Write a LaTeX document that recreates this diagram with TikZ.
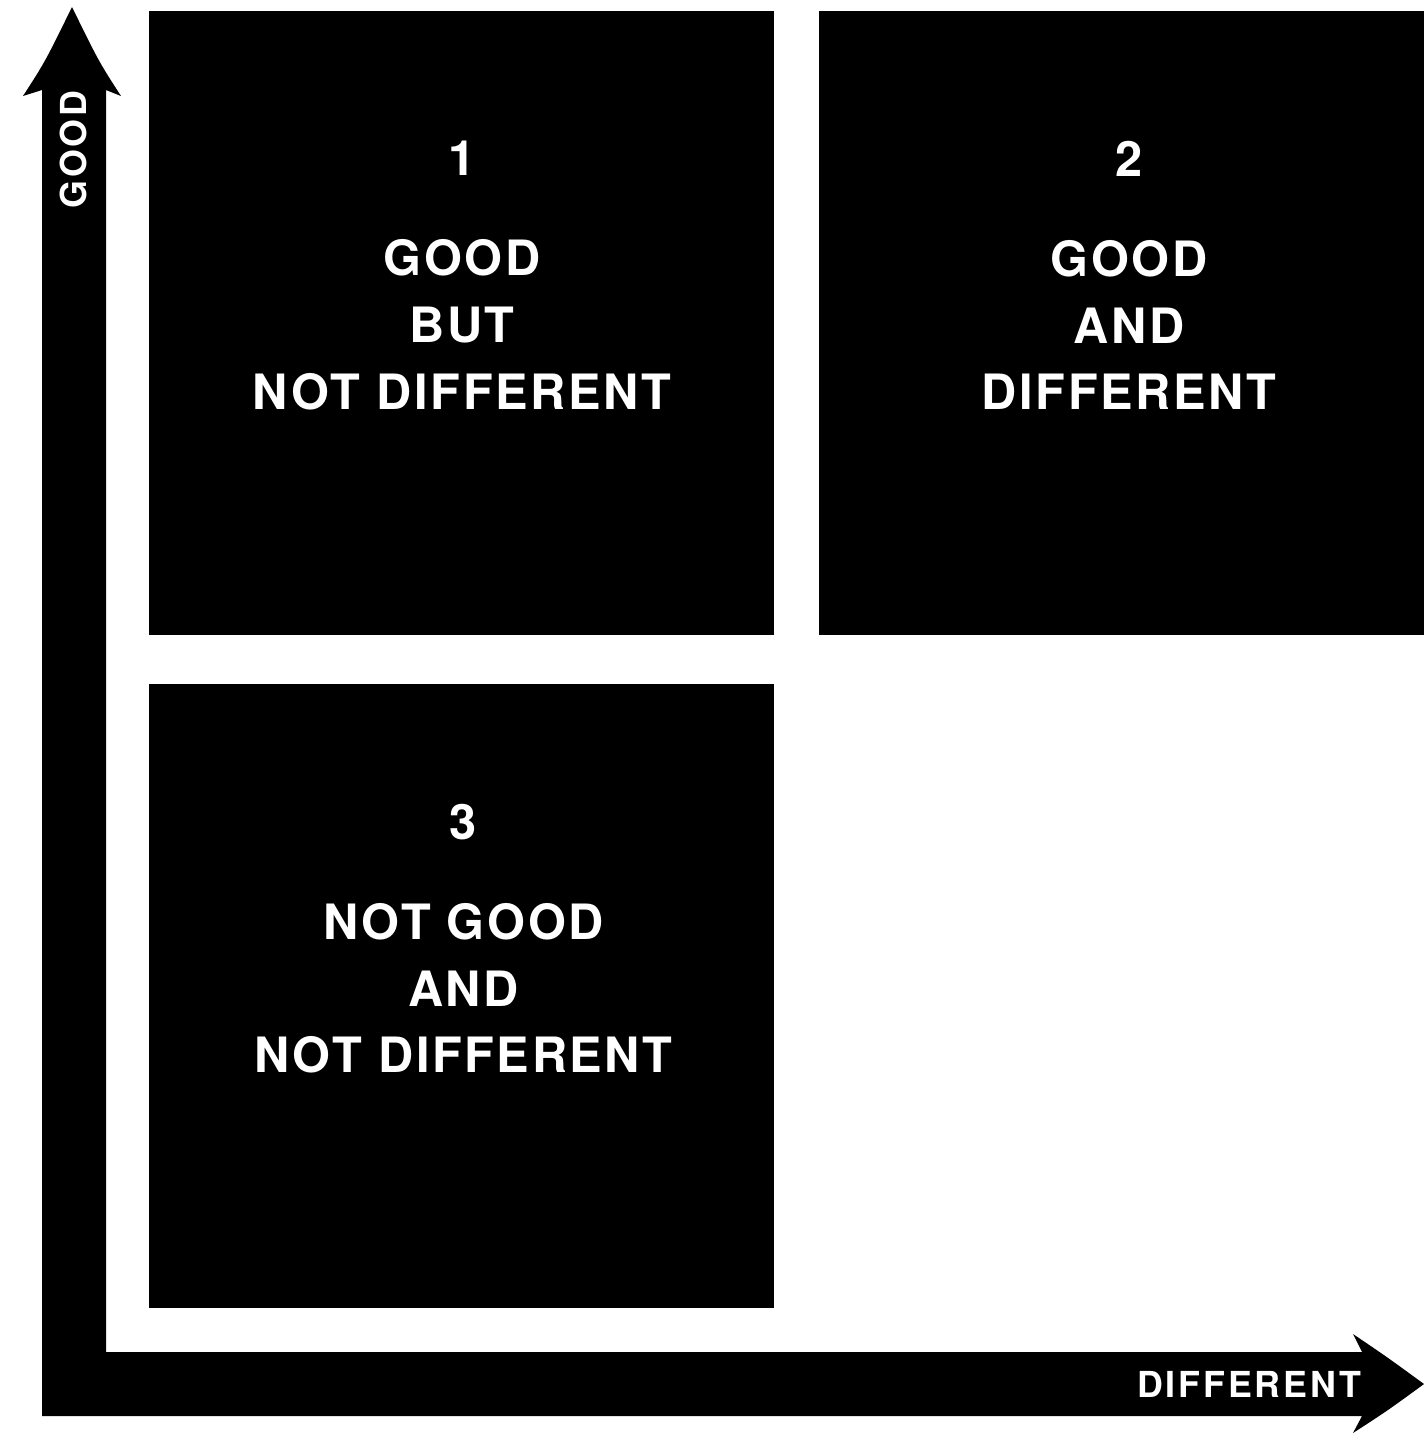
\documentclass[tikz,border=0pt]{standalone}
\usepackage{fontspec}
\usepackage{tikz}
\usetikzlibrary{positioning}
\newfontfamily\quadfont{TeX Gyre Heros}[LetterSpace=5.4]
\newfontfamily\axisfont{TeX Gyre Heros}[LetterSpace=8.0]

\begin{document}
\begin{tikzpicture}[x=1pt, y=-1pt,
    quadtext/.style={text=white, align=center, anchor=north, inner sep=0pt,
      font=\quadfont\bfseries\fontsize{48.7}{66.7}\selectfont},
    axislabel/.style={text=white, anchor=base, inner sep=0pt,
      font=\axisfont\bfseries\fontsize{35.8}{40}\selectfont}]
    \useasboundingbox (0,0) rectangle (1424,1433);
    % quadrants
    \fill (149,11) rectangle (774,635);
    \fill (819,11) rectangle (1424,635);
    \fill (149,684) rectangle (774,1308);
    % axes
    \fill (42,1416) -- (42,90) -- (23,96) .. controls (45,62) .. (72,7)
        .. controls (99,62) .. (121,96) -- (106,90) -- (106,1352)
        -- (1362,1352) -- (1353,1334) .. controls (1387,1357) .. (1424,1384)
        .. controls (1387,1411) .. (1353,1433) -- (1362,1416) -- cycle;
    % texts
    \node[quadtext] (q1) at (462,141) {1\\[33.3pt]GOOD\\BUT\\NOT DIFFERENT};
    \node[quadtext] (q2) at (1129,141) {2\\[33.3pt]GOOD\\AND\\DIFFERENT};
    \node[quadtext] (q3) at (463.5,804) {3\\[33.3pt]NOT GOOD\\AND\\NOT DIFFERENT};
    \node[axislabel] (xlabel) at (1249,1397) {DIFFERENT};
    \node[axislabel, rotate=90] (ylabel) at (86.3,149.5) {GOOD};
\end{tikzpicture}
\end{document}
